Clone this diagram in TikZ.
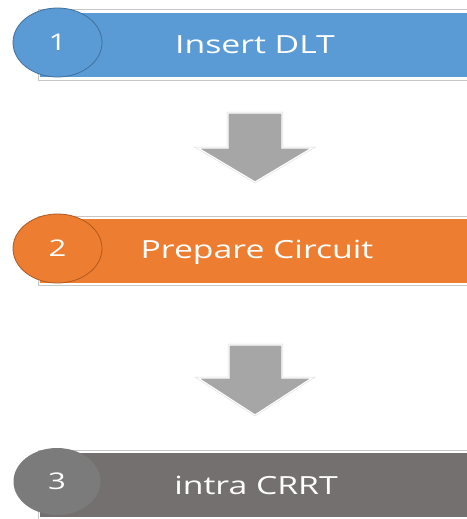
\documentclass[tikz,border=0pt]{standalone}
\usepackage{fontspec}
\usetikzlibrary{shapes.geometric}
\newfontfamily\widefont[FakeStretch=1.35]{Open Sans}
\definecolor{cblue}{HTML}{5B9BD5}
\definecolor{cblueD}{HTML}{41719C}
\definecolor{corange}{HTML}{ED7D31}
\definecolor{corangeD}{HTML}{AE5A21}
\definecolor{cgray}{HTML}{757070}
\definecolor{cgrayE}{HTML}{7C7B7B}
\definecolor{carrow}{HTML}{A6A6A6}
\begin{document}
\begin{tikzpicture}[x=1pt,y=-1pt,
  stepbar/.style={rectangle,anchor=north west,minimum width=432pt,minimum height=65pt,inner sep=0pt,draw=white,line width=1pt},
  barframe/.style={draw=black!22,line width=1pt},
  numell/.style={ellipse,minimum width=89pt,minimum height=69pt,inner sep=0pt,line width=0.8pt},
  bartext/.style={text=white,font=\widefont\fontsize{25}{28}\selectfont},
  numtext/.style={text=white,font=\widefont\fontsize{23}{26}\selectfont},
  blockarrow/.style={fill=carrow,draw=white,line width=1.2pt,line join=miter}
]
\useasboundingbox (0,0) rectangle (466,519);
% bars
\draw[barframe] (38,10) rectangle (472,80);
\node[stepbar,fill=cblue] (b1) at (39,12) {};
\draw[barframe] (38,216) rectangle (472,285);
\node[stepbar,fill=corange] (b2) at (39,218) {};
\draw[barframe] (38,450) rectangle (472,519);
\node[stepbar,fill=cgray] (b3) at (39,452) {};
% texts
\node[bartext] (t1) at (255,45) {Insert DLT};
\node[bartext] (t2) at (257,252) {Prepare Circuit};
\node[bartext] (t3) at (256,485) {intra CRRT};
% ellipses
\node[numell,fill=cblue,draw=cblueD] (e1) at (57.5,42.5) {};
\node[numtext] (n1) at (e1) {1};
\node[numell,fill=corange,draw=corangeD] (e2) at (57.5,248.5) {};
\node[numtext] (n2) at (e2) {2};
\node[numell,fill=cgrayE,draw=none,minimum width=87pt,minimum height=67pt] (e3) at (57,481.5) {};
\node[numtext] (n3) at (e3) {3};
% block arrows
\draw[black!15,line width=2.2pt,line join=miter] (228,113) -- (282,113) -- (282,148) -- (312,148) -- (255,182) -- (198,148) -- (228,148) -- cycle;
\draw[blockarrow] (228,113) -- (282,113) -- (282,148) -- (312,148) -- (255,182) -- (198,148) -- (228,148) -- cycle;
\draw[black!15,line width=2.2pt,line join=miter] (229,345) -- (282,345) -- (282,378) -- (312,378) -- (255,415) -- (198,378) -- (229,378) -- cycle;
\draw[blockarrow] (229,345) -- (282,345) -- (282,378) -- (312,378) -- (255,415) -- (198,378) -- (229,378) -- cycle;
\end{tikzpicture}
\end{document}
